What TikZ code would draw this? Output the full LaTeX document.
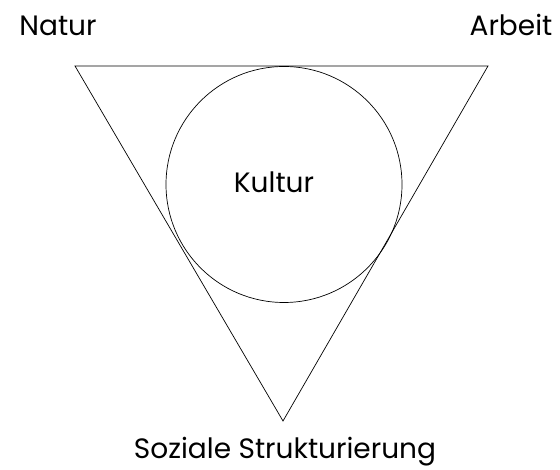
\documentclass[tikz,border=0pt]{standalone}
\usepackage{fontspec}
\setmainfont{Poppins}
\usetikzlibrary{positioning}
\tikzset{
  lbl/.style={font=\fontsize{28}{32}\selectfont, inner sep=0pt, anchor=base},
  ring/.style={circle, draw, line width=0.7pt, minimum size=236pt, inner sep=0pt},
  edge/.style={line width=0.7pt, line join=miter},
}
\begin{document}
\begin{tikzpicture}[x=1pt,y=1pt]
  \useasboundingbox (0,0) rectangle (560,470);
  % triangle corners
  \coordinate (tl) at (75,404);
  \coordinate (tr) at (488,404);
  \coordinate (bt) at (283,49);
  \draw[edge] (tl) -- (tr) -- (bt) -- cycle;

  \node[ring] (kreis) at (284,285.5) {};
  \node[lbl] (kultur) at (274,277) {Kultur};

  \node[lbl] (natur) at (58,434) {Natur};
  \node[lbl] (arbeit) at (511,434) {Arbeit};
  \node[lbl] (sozial) at (285,11) {Soziale Strukturierung};
\end{tikzpicture}
\end{document}
